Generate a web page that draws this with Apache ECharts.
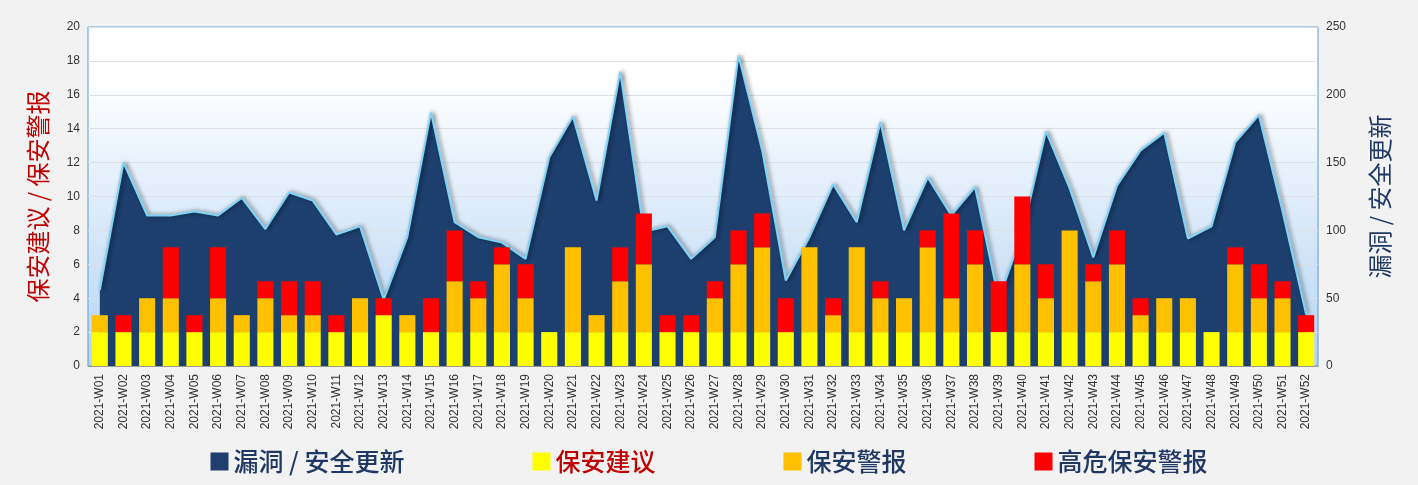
<!DOCTYPE html>
<html>
<head>
<meta charset="utf-8">
<script src="https://cdn.jsdelivr.net/npm/echarts@6/dist/echarts.min.js"></script>
<style>html,body{margin:0;padding:0;background:#f2f2f2;}#chart{width:1418px;height:485px;}</style>
</head>
<body>
<div id="chart"></div>
<script>
var weeks = [];
for (var i = 1; i <= 52; i++) weeks.push('2021-W' + (i < 10 ? '0' + i : i));

var advisory = [2,2,2,2,2,2,2,2,2,2,2,2,3,2,2,2,2,2,2,2,2,2,2,2,2,2,2,2,2,2,2,2,2,2,2,2,2,2,2,2,2,2,2,2,2,2,2,2,2,2,2,2];
var alerts   = [1,0,2,2,0,2,1,2,1,1,0,2,0,1,0,3,2,4,2,0,5,1,3,4,0,0,2,4,5,0,5,1,5,2,2,5,2,4,0,4,2,6,3,4,1,2,2,0,4,2,2,0];
var highRisk = [0,1,0,3,1,3,0,1,2,2,1,0,1,0,2,3,1,1,2,0,0,0,2,3,1,1,1,2,2,2,0,1,0,1,0,1,5,2,3,4,2,0,1,2,1,0,0,0,1,2,1,1];
var updates  = [56,150,111,111,114,111,124,101,128,122,97,103,49,95,187,106,95,91,79,154,184,122,217,99,103,79,95,229,159,63,95,134,106,180,100,139,111,132,49,98,173,131,80,133,159,172,94,103,165,185,114,38];

var chart = echarts.init(document.getElementById('chart'));
var font = '"Noto Sans CJK SC", sans-serif';
chart.setOption({
    backgroundColor: '#f2f2f2',
    grid: {
        left: 88, right: 100, top: 27, bottom: 119,
        show: true, borderColor: '#5b9bd5', borderWidth: 1,
        backgroundColor: new echarts.graphic.LinearGradient(0, 0, 0, 1, [
            {offset: 0, color: '#ffffff'}, {offset: 0.15, color: '#ffffff'}, {offset: 1, color: '#b4d4f4'}
        ])
    },
    legend: {
        bottom: 6, left: 'center', itemGap: 128, itemWidth: 18, itemHeight: 18,
        textStyle: {fontSize: 25, color: '#1f3864', fontFamily: font, fontWeight: 500},
        data: [
            {name: '漏洞 / 安全更新', icon: 'rect'},
            {name: '保安建议', icon: 'rect', textStyle: {color: '#c00000'}},
            {name: '保安警报', icon: 'rect'},
            {name: '高危保安警报', icon: 'rect'}
        ]
    },
    xAxis: {
        type: 'category', data: weeks,
        axisLabel: {rotate: 90, fontSize: 12, color: '#333', interval: 0, fontFamily: 'Liberation Sans'},
        axisTick: {show: false},
        axisLine: {lineStyle: {color: '#999'}}
    },
    yAxis: [{
        type: 'value', min: 0, max: 20, interval: 2,
        name: '保安建议 / 保安警报', nameLocation: 'middle', nameGap: 38,
        nameTextStyle: {fontSize: 24, color: '#c00000', fontFamily: font},
        axisLabel: {color: '#333', fontSize: 12},
        splitLine: {lineStyle: {color: '#dcdfe6'}}
    }, {
        type: 'value', min: 0, max: 250, interval: 50,
        name: '漏洞 / 安全更新', nameLocation: 'middle', nameGap: 50, nameRotate: 90,
        nameTextStyle: {fontSize: 24, color: '#1f3864', fontFamily: font},
        axisLabel: {color: '#333', fontSize: 12},
        splitLine: {show: false}
    }],
    series: [{
        name: '漏洞 / 安全更新', type: 'line', yAxisIndex: 1, data: updates,
        symbol: 'none', z: 1,
        itemStyle: {color: '#1f3f6e'},
        lineStyle: {color: '#7fd3f7', width: 2, shadowColor: 'rgba(0,0,0,0.6)', shadowBlur: 4, shadowOffsetX: 2},
        areaStyle: {color: '#1c3f6e', opacity: 1}
    }, {
        name: '保安建议', type: 'bar', stack: 'a', data: advisory, barWidth: '68%', z: 3,
        itemStyle: {color: '#ffff00'}
    }, {
        name: '保安警报', type: 'bar', stack: 'a', data: alerts, z: 3,
        itemStyle: {color: '#ffc000'}
    }, {
        name: '高危保安警报', type: 'bar', stack: 'a', data: highRisk, z: 3,
        itemStyle: {color: '#ff0000'}
    }]
});
</script>
</body>
</html>
